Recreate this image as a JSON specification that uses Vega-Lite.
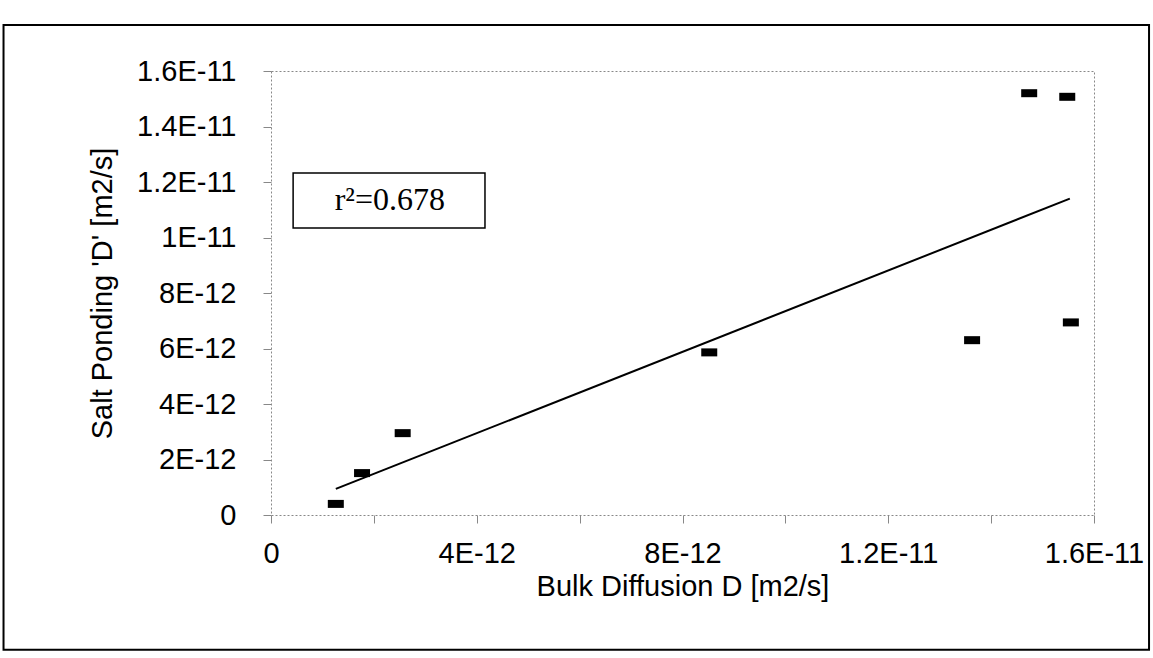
{
  "$schema": "https://vega.github.io/schema/vega-lite/v6.json",
  "width": 823,
  "height": 444,
  "autosize": {"type": "none"},
  "padding": {"left": 271, "top": 71, "right": 59, "bottom": 143},
  "background": "white",
  "config": {
    "view": {"stroke": "#888888", "strokeDash": [2, 2], "strokeWidth": 1},
    "font": "Liberation Sans",
    "axis": {
      "domain": false,
      "grid": false,
      "tickColor": "#888888",
      "tickSize": 8,
      "tickWidth": 1,
      "labelFont": "Liberation Sans",
      "labelFontSize": 29,
      "labelColor": "black",
      "labelOverlap": false,
      "labelFlush": false,
      "titleFont": "Liberation Sans",
      "titleFontSize": 29,
      "titleFontWeight": "normal",
      "titleColor": "black"
    }
  },
  "datasets": {
    "points": [
      {"bulk": 1.26e-12, "salt": 0.40e-12},
      {"bulk": 1.77e-12, "salt": 1.51e-12},
      {"bulk": 2.56e-12, "salt": 2.95e-12},
      {"bulk": 8.52e-12, "salt": 5.86e-12},
      {"bulk": 13.63e-12, "salt": 6.30e-12},
      {"bulk": 15.55e-12, "salt": 6.94e-12},
      {"bulk": 14.74e-12, "salt": 15.20e-12},
      {"bulk": 15.48e-12, "salt": 15.07e-12}
    ],
    "fit": [
      {"bulk": 1.26e-12, "salt": 0.94e-12},
      {"bulk": 15.53e-12, "salt": 11.40e-12}
    ],
    "note": [
      {"label": "r²=0.678"}
    ]
  },
  "layer": [
    {
      "data": {"name": "note"},
      "mark": {"type": "rect", "fill": null, "stroke": "black", "strokeWidth": 2, "clip": false},
      "encoding": {
        "x": {"datum": -5.2e-12, "type": "quantitative", "scale": {"domain": [0, 1.6e-11], "nice": false}},
        "x2": {"datum": 17.07e-12},
        "y": {"datum": 17.66e-12, "type": "quantitative", "scale": {"domain": [0, 1.6e-11], "nice": false}},
        "y2": {"datum": -4.86e-12}
      }
    },
    {
      "data": {"name": "fit"},
      "mark": {"type": "line", "color": "black", "strokeWidth": 2},
      "encoding": {
        "x": {
          "field": "bulk", "type": "quantitative",
          "scale": {"domain": [0, 1.6e-11], "nice": false},
          "axis": {
            "title": "Bulk Diffusion D [m2/s]",
            "values": [0, 2e-12, 4e-12, 6e-12, 8e-12, 10e-12, 12e-12, 14e-12, 16e-12],
            "labelExpr": "(round(datum.value*1e12) % 4 != 0) ? '' : (round(datum.value*1e12) == 0 ? '0' : (round(datum.value*1e12) < 10 ? round(datum.value*1e12) + 'E-12' : (round(datum.value*1e12) == 10 ? '1E-11' : format(round(datum.value*1e12)/10, '.1f') + 'E-11')))",
            "labelPadding": 16,
            "titlePadding": 4
          }
        },
        "y": {
          "field": "salt", "type": "quantitative",
          "scale": {"domain": [0, 1.6e-11], "nice": false},
          "axis": {
            "title": "Salt Ponding 'D' [m2/s]",
            "values": [0, 1e-12, 2e-12, 3e-12, 4e-12, 5e-12, 6e-12, 7e-12, 8e-12, 9e-12, 10e-12, 11e-12, 12e-12, 13e-12, 14e-12, 15e-12, 16e-12],
            "labelExpr": "(round(datum.value*1e12) % 2 != 0) ? '' : (round(datum.value*1e12) == 0 ? '0' : (round(datum.value*1e12) < 10 ? round(datum.value*1e12) + 'E-12' : (round(datum.value*1e12) == 10 ? '1E-11' : format(round(datum.value*1e12)/10, '.1f') + 'E-11')))",
            "labelPadding": 27,
            "titlePadding": 19
          }
        }
      }
    },
    {
      "data": {"name": "points"},
      "mark": {"type": "point", "shape": "M-1,-0.5H1V0.5H-1Z", "filled": true, "color": "black", "size": 256, "opacity": 1},
      "encoding": {
        "x": {"field": "bulk", "type": "quantitative"},
        "y": {"field": "salt", "type": "quantitative"}
      }
    },
    {
      "data": {"name": "note"},
      "mark": {"type": "rect", "fill": "white", "stroke": "black", "strokeWidth": 1.5},
      "encoding": {
        "x": {"datum": 0.43e-12, "type": "quantitative"},
        "x2": {"datum": 4.16e-12},
        "y": {"datum": 12.32e-12, "type": "quantitative"},
        "y2": {"datum": 10.34e-12}
      }
    },
    {
      "data": {"name": "note"},
      "mark": {"type": "text", "font": "Liberation Serif", "fontSize": 32, "color": "black", "align": "center", "baseline": "middle"},
      "encoding": {
        "text": {"field": "label"},
        "x": {"datum": 2.31e-12, "type": "quantitative"},
        "y": {"datum": 11.35e-12, "type": "quantitative"}
      }
    }
  ]
}
